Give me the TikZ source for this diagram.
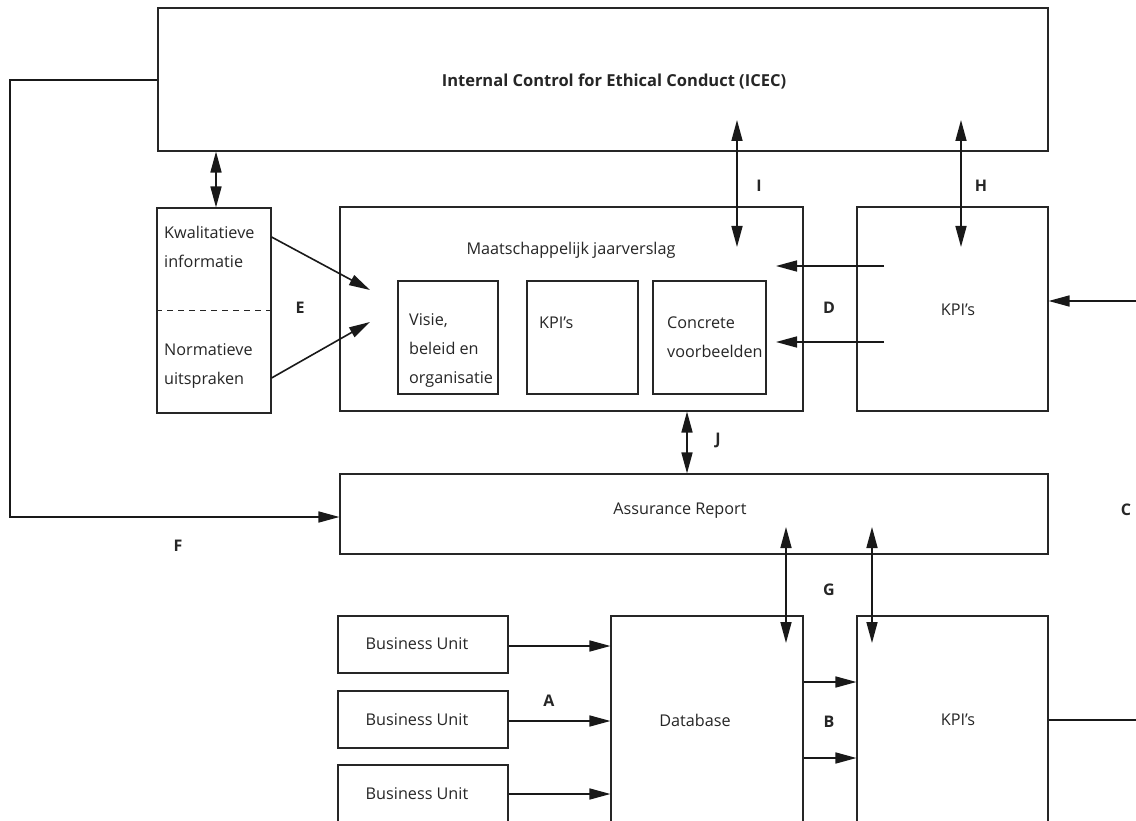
\documentclass[tikz,border=0pt]{standalone}
\usepackage{fontspec}
\setmainfont{Open Sans}
\usetikzlibrary{arrows.meta}
\begin{document}
\begin{tikzpicture}[x=1pt,y=-1pt,
  box/.style={draw=black!85, line width=1.1pt, inner sep=0pt},
  txt/.style={font=\fontsize{16.2}{29}\selectfont, text=black!85, inner sep=0pt},
  lbl/.style={font=\fontsize{16}{18}\selectfont\bfseries, text=black!85, inner sep=0pt},
  arr/.style={line width=1.6pt, draw=black!90, -{Triangle[length=21pt,width=11pt]}},
  barr/.style={line width=1.6pt, draw=black!90, {Triangle[length=21pt,width=11pt]}-{Triangle[length=21pt,width=11pt]}},
  ln/.style={line width=1.6pt, draw=black!90}]
\clip (0,0) rectangle (1136,821);
\fill[white] (0,0) rectangle (1136,821);
% boxes
\node[box, minimum width=890pt, minimum height=143pt] (icec) at (603,79.5) {};
\node[font=\fontsize{16.5}{18}\selectfont\bfseries, text=black!85, inner sep=0pt] (icectxt) at (614,81) {Internal Control for Ethical Conduct (ICEC)};
\node[box, minimum width=114pt, minimum height=205pt] (kwal) at (214,310.5) {};
\draw[line width=0.8pt, dash pattern=on 6pt off 5pt, black!85] (kwal.west) -- (kwal.east);
\node[txt, anchor=west, align=left] (kwaltxt) at (164,247) {Kwalitatieve\\informatie};
\node[txt, anchor=west, align=left] (normtxt) at (164,366) {Normatieve\\uitspraken};
\node[box, minimum width=463pt, minimum height=204pt] (maat) at (571.5,309) {};
\node[txt] (maattxt) at (571,250) {Maatschappelijk jaarverslag};
\node[box, minimum width=100pt, minimum height=113pt] (visie) at (448,337.5) {};
\node[txt, anchor=west, align=left] (visietxt) at (409,351) {Visie,\\beleid en\\organisatie};
\node[box, minimum width=111pt, minimum height=113pt] (kpim) at (582.5,337.5) {};
\node[txt, anchor=west] (kpimtxt) at (539,323) {KPI’s};
\node[box, minimum width=113pt, minimum height=113pt] (conc) at (709.5,337.5) {};
\node[txt, anchor=west, align=left] (conctxt) at (667,337) {Concrete\\voorbeelden};
\node[box, minimum width=191pt, minimum height=204pt] (kpir) at (952.5,309) {};
\node[txt] (kpirtxt) at (958,310) {KPI’s};
\node[box, minimum width=708pt, minimum height=80pt] (assur) at (694,514) {};
\node[txt] (assurtxt) at (680,511) {Assurance Report};
\node[box, minimum width=170pt, minimum height=57pt] (bu1) at (423,644.5) {};
\node[box, minimum width=170pt, minimum height=57pt] (bu2) at (423,719.5) {};
\node[box, minimum width=170pt, minimum height=58pt] (bu3) at (423,794) {};
\node[txt] (bu1txt) at (417,644) {Business Unit};
\node[txt] (bu2txt) at (417,720) {Business Unit};
\node[txt] (bu3txt) at (417,794) {Business Unit};
\node[box, minimum width=192pt, minimum height=208pt] (db) at (707,720) {};
\node[txt] (dbtxt) at (695,720) {Database};
\node[box, minimum width=191pt, minimum height=208pt] (kpib) at (952.5,720) {};
\node[txt] (kpibtxt) at (958,720) {KPI’s};
% free-end coordinates
\coordinate (i1) at (737,120); \coordinate (i2) at (737,247);
\coordinate (h1) at (961,120); \coordinate (h2) at (961,247);
\coordinate (d1s) at (884,266); \coordinate (d1e) at (776,266);
\coordinate (d2s) at (884,342); \coordinate (d2e) at (776,342);
\coordinate (rin) at (1136,301);
\coordinate (e1e) at (370,290); \coordinate (e2e) at (370,322);
\coordinate (fa) at (10,80); \coordinate (fb) at (10,517);
\coordinate (g1a) at (786,527); \coordinate (g1b) at (786,643);
\coordinate (g2a) at (872,527); \coordinate (g2b) at (872,643);
\coordinate (rout) at (1136,720);
% connectors
\draw[barr] (icec.south -| 216,0) -- (kwal.north -| 216,0);
\draw[barr] (i1) -- (i2);
\draw[barr] (h1) -- (h2);
\draw[arr] (d1s) -- (d1e);
\draw[arr] (d2s) -- (d2e);
\draw[arr] (rin) -- (kpir.east |- rin);
\draw[arr] (kwal.east |- 0,237) -- (e1e);
\draw[arr] (kwal.east |- 0,378) -- (e2e);
\draw[barr] (maat.south -| 687,0) -- (assur.north -| 687,0);
\draw[arr] (icec.west |- fa) -- (fa) -- (fb) -- (assur.west |- fb);
\draw[barr] (g1a) -- (g1b);
\draw[barr] (g2a) -- (g2b);
\draw[arr] (db.east |- 0,682) -- (kpib.west |- 0,682);
\draw[arr] (db.east |- 0,758) -- (kpib.west |- 0,758);
\draw[ln] (kpib.east) -- (rout);
\draw[arr] (bu1.east |- 0,646) -- (db.west |- 0,646);
\draw[arr] (bu2.east |- 0,721) -- (db.west |- 0,721);
\draw[arr] (bu3.east |- 0,794) -- (db.west |- 0,794);
% labels
\node[lbl] (lI) at (759,186) {I};
\node[lbl] (lH) at (981,186) {H};
\node[lbl] (lD) at (829,308) {D};
\node[lbl] (lE) at (300,308) {E};
\node[lbl] (lJ) at (718,440) {J};
\node[lbl] (lF) at (178,546) {F};
\node[lbl] (lC) at (1126,510) {C};
\node[lbl] (lG) at (829,590) {G};
\node[lbl] (lB) at (829,722) {B};
\node[lbl] (lA) at (549,701) {A};
\end{tikzpicture}
\end{document}
